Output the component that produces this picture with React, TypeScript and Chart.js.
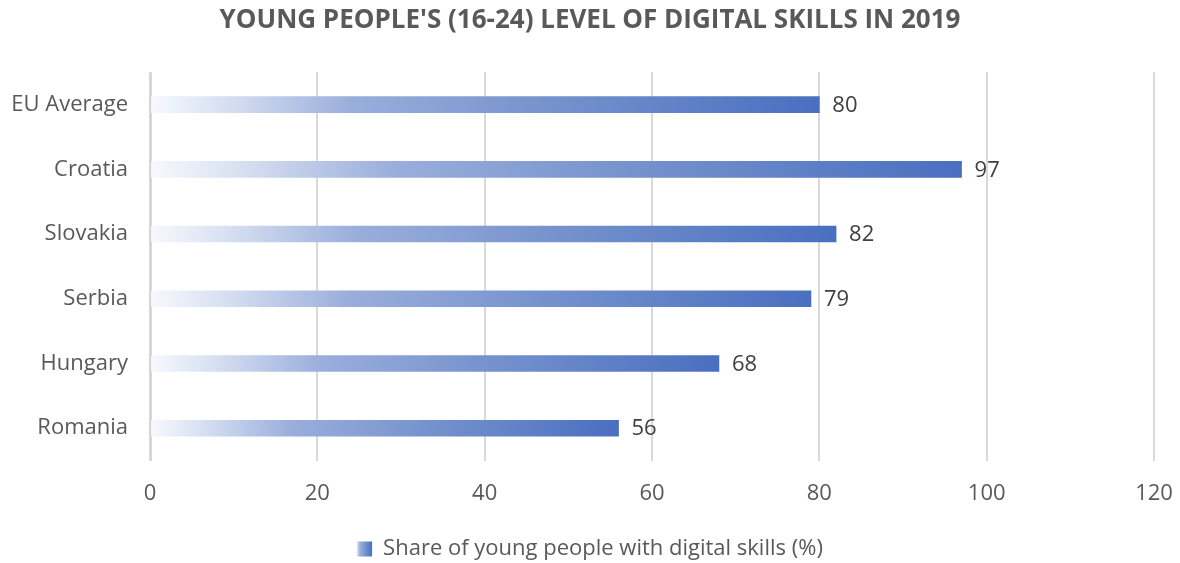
import React, { useEffect, useRef } from "react";
import { Chart, registerables } from "chart.js";

Chart.register(...registerables);

const TITLE = "YOUNG PEOPLE'S (16-24) LEVEL OF DIGITAL SKILLS IN 2019";
const categories = ["EU Average", "Croatia", "Slovakia", "Serbia", "Hungary", "Romania"];
const shareValues = [80, 97, 82, 79, 68, 56];
const seriesLabel = "Share of young people with digital skills (%)";
const xTicks = [0, 20, 40, 60, 80, 100, 120];

const FONT = "'Open Sans', 'Noto Sans', sans-serif";
const TEXT = "#595959";

function makeGradient(ctx: CanvasRenderingContext2D, x0: number, x1: number) {
  const g = ctx.createLinearGradient(x0, 0, x1, 0);
  g.addColorStop(0, "#f7f9fd");
  g.addColorStop(0.12, "#d5def1");
  g.addColorStop(0.3, "#9aaedc");
  g.addColorStop(0.6, "#7592cd");
  g.addColorStop(1, "#4a6fc0");
  return g;
}

const dataLabels = {
  id: "dataLabels",
  beforeDraw(chart: any) {
    const lg = chart.legend;
    if (lg && lg.legendHitBoxes && lg.legendHitBoxes[0] && lg.legendItems && lg.legendItems[0]) {
      const hb = lg.legendHitBoxes[0];
      lg.legendItems[0].fillStyle = makeGradient(chart.ctx, hb.left - 2, hb.left + 15);
    }
  },
  afterDatasetsDraw(chart: any) {
    const ctx = chart.ctx;
    const meta = chart.getDatasetMeta(0);
    ctx.save();
    ctx.font = `22px ${FONT}`;
    ctx.fillStyle = "#404040";
    ctx.textAlign = "left";
    ctx.textBaseline = "middle";
    meta.data.forEach((el: any, i: number) => {
      ctx.fillText(String(shareValues[i]), el.x + 13, el.y + 1);
    });
    ctx.restore();
  },
};

export default function App() {
  const ref = useRef<HTMLCanvasElement | null>(null);
  useEffect(() => {
    document.body.style.margin = "0";
    const canvas = ref.current!;
    const chart = new Chart(canvas, {
      type: "bar",
      data: {
        labels: categories,
        datasets: [
          {
            label: seriesLabel,
            data: shareValues,
            barThickness: 16,
            borderWidth: 0,
            backgroundColor: (c: any) => {
              const ch = c.chart;
              const xs = ch.scales?.x;
              if (!xs || !ch.chartArea || c.type !== "data") return "#6a8bcc";
              const x0 = xs.getPixelForValue(0);
              const x1 = xs.getPixelForValue(c.raw);
              return makeGradient(ch.ctx, x0, x1);
            },
          },
        ],
      },
      options: {
        indexAxis: "y",
        animation: false,
        responsive: false,
        layout: { padding: { left: 0, right: 0, top: 0, bottom: -7 } },
        plugins: {
          title: {
            display: true,
            text: TITLE,
            color: TEXT,
            font: { family: FONT, size: 26, weight: "bold" },
            padding: { top: 5, bottom: 36 },
          },
          legend: {
            position: "bottom",
            labels: {
              color: TEXT,
              font: { family: FONT, size: 22 },
              boxWidth: 15,
              boxHeight: 15,
              padding: 10,
              generateLabels: () => [
                {
                  text: seriesLabel,
                  fillStyle: "#6a8bcc",
                  strokeStyle: "rgba(0,0,0,0)",
                  lineWidth: 0,
                  datasetIndex: 0,
                  fontColor: TEXT,
                },
              ],
            },
          },
          tooltip: { enabled: false },
        },
        scales: {
          x: {
            min: 0,
            max: 120,
            afterBuildTicks: (s: any) => {
              s.ticks = xTicks.map((v) => ({ value: v }));
            },
            afterFit: (s: any) => {
              s.paddingLeft = 0;
              s.paddingRight = 26;
              s.height += 1;
            },
            ticks: {
              color: TEXT,
              font: { family: FONT, size: 22 },
              padding: 20,
            },
            grid: {
              color: (c: any) => (c.tick && c.tick.value === 0 ? "#d6d6d6" : "#d9d9d9"),
              lineWidth: (c: any) => (c.tick && c.tick.value === 0 ? 3 : 2),
              drawTicks: false,
            },
            border: { display: false },
          },
          y: {
            afterFit: (s: any) => {
              s.width = 150;
            },
            ticks: {
              color: TEXT,
              font: { family: FONT, size: 22 },
              padding: 22,
            },
            grid: { display: false, drawTicks: false },
            border: { display: false },
          },
        },
      },
      plugins: [dataLabels],
    });
    return () => chart.destroy();
  }, []);
  return (
    <div style={{ width: 1180, height: 563 }}>
      <canvas ref={ref} width={1180} height={563} />
    </div>
  );
}
